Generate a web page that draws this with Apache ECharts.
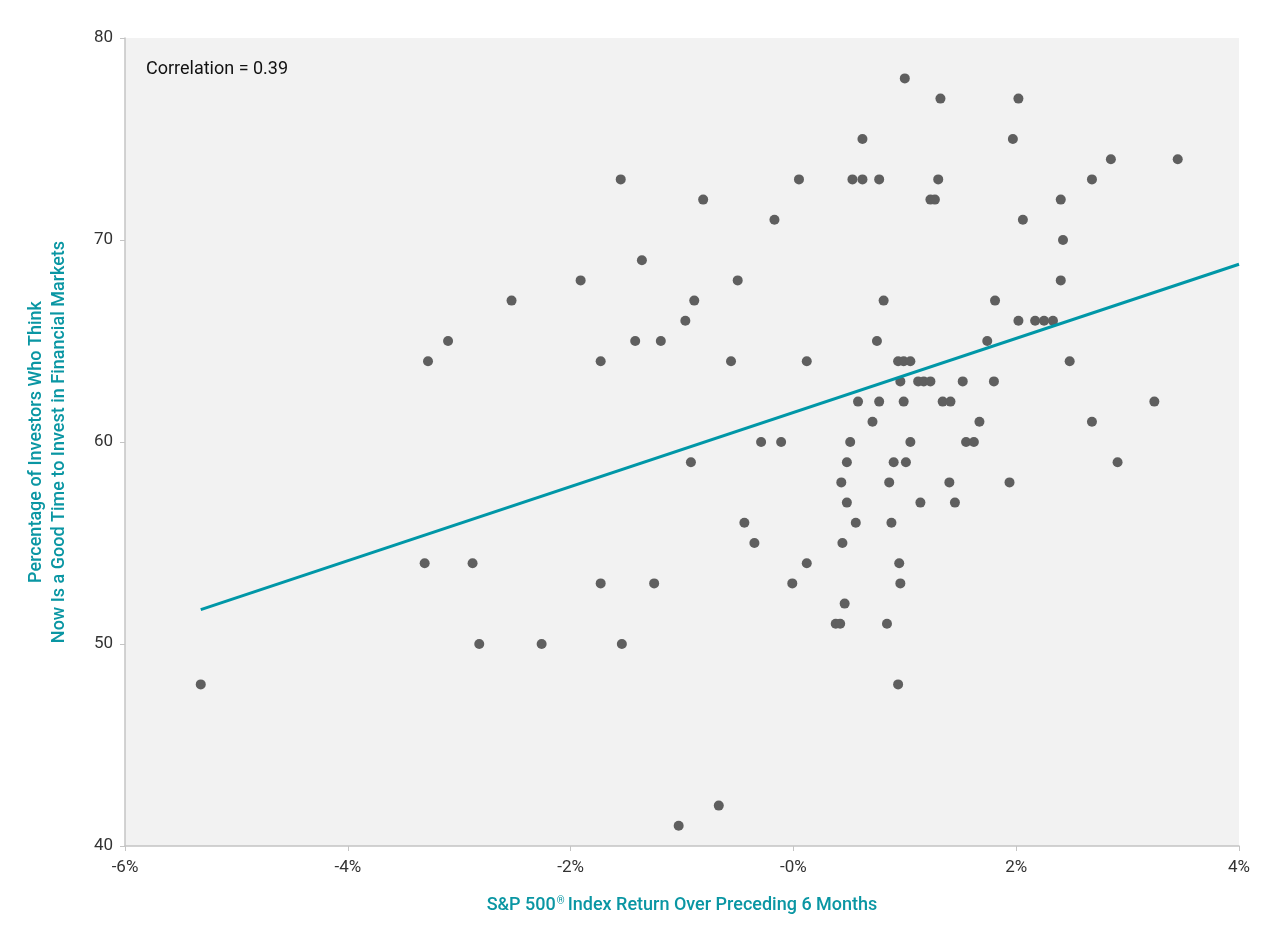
<!DOCTYPE html>
<html>
<head>
<meta charset="utf-8">
<script src="https://cdn.jsdelivr.net/npm/echarts@6/dist/echarts.min.js"></script>
<style>
  html, body { margin: 0; padding: 0; background: #fff; }
  #main { width: 1280px; height: 937px; }
</style>
</head>
<body>
<div id="main"></div>
<script>
// S&P 500 6-month return (%) and share of investors saying "good time to invest"
var returns = [
  -5.32, -3.31, -3.28, -3.10, -2.88, -2.82, -2.53, -2.26, -1.91, -1.73,
  -1.73, -1.55, -1.54, -1.42, -1.36, -1.25, -1.19, -1.03, -0.97, -0.92,
  -0.89, -0.81, -0.67, -0.56, -0.50, -0.44, -0.35, -0.29, -0.17, -0.11,
  -0.01, 0.05, 0.12, 0.12, 0.38, 0.42, 0.43, 0.44, 0.46, 0.48,
  0.48, 0.51, 0.53, 0.56, 0.58, 0.62, 0.62, 0.71, 0.75, 0.77,
  0.77, 0.81, 0.84, 0.86, 0.88, 0.90, 0.94, 0.94, 0.95, 0.96,
  0.96, 0.99, 0.99, 1.00, 1.01, 1.05, 1.05, 1.12, 1.14, 1.17,
  1.23, 1.23, 1.27, 1.30, 1.32, 1.34, 1.40, 1.41, 1.45, 1.52,
  1.55, 1.62, 1.67, 1.74, 1.80, 1.81, 1.94, 1.97, 2.02, 2.02,
  2.06, 2.17, 2.25, 2.33, 2.40, 2.40, 2.42, 2.48, 2.68, 2.68,
  2.85, 2.91, 3.24, 3.45
];
var goodTime = [
  48, 54, 64, 65, 54, 50, 67, 50, 68, 64,
  53, 73, 50, 65, 69, 53, 65, 41, 66, 59,
  67, 72, 42, 64, 68, 56, 55, 60, 71, 60,
  53, 73, 64, 54, 51, 51, 58, 55, 52, 59,
  57, 60, 73, 56, 62, 75, 73, 61, 65, 73,
  62, 67, 51, 58, 56, 59, 64, 48, 54, 63,
  53, 64, 62, 78, 59, 64, 60, 63, 57, 63,
  63, 72, 72, 73, 77, 62, 58, 62, 57, 63,
  60, 60, 61, 65, 63, 67, 58, 75, 77, 66,
  71, 66, 66, 66, 72, 68, 70, 64, 73, 61,
  74, 59, 62, 74
];
// fitted trend line ends
var trendX = [-5.32, 4];
var trendY = [51.7, 68.8];

var teal = '#0a96a3';
var points = returns.map(function (x, i) { return [x, goodTime[i]]; });
var trend = trendX.map(function (x, i) { return [x, trendY[i]]; });

var myChart = echarts.init(document.getElementById('main'));
var option = {
  backgroundColor: '#fff',
  textStyle: { fontFamily: 'Roboto' },
  animation: false,
  grid: {
    left: 125, right: 41, top: 38, bottom: 91,
    show: true, backgroundColor: '#f2f2f2', borderWidth: 0
  },
  graphic: [{
    type: 'text', left: 146, top: 60,
    style: { text: 'Correlation = 0.39', fontSize: 18, fill: '#111', fontFamily: 'Roboto' }
  }],
  xAxis: {
    type: 'value', min: -6, max: 4, interval: 2,
    axisLine: { show: true, onZero: false, lineStyle: { color: '#c4c4c4', width: 1.5 } },
    axisTick: { show: true, length: 5, lineStyle: { color: '#c4c4c4' } },
    splitLine: { show: false },
    axisLabel: {
      color: '#333', fontSize: 17, margin: 13,
      formatter: function (v) { return (v === 0 ? '-0' : v) + '%'; }
    },
    name: 'S&P 500{sup|®}Index Return Over Preceding 6 Months',
    nameLocation: 'middle', nameGap: 50,
    nameTextStyle: {
      color: teal, fontSize: 18, fontWeight: 500,
      rich: { sup: { fontSize: 10, color: teal, fontWeight: 500, verticalAlign: 'top', padding: [0, 3, 9, 1] } }
    }
  },
  yAxis: {
    type: 'value', min: 40, max: 80, interval: 10,
    axisLine: { show: true, onZero: false, lineStyle: { color: '#c4c4c4', width: 1.5 } },
    axisTick: { show: true, length: 5, lineStyle: { color: '#c4c4c4' } },
    splitLine: { show: false },
    axisLabel: { color: '#333', fontSize: 17, margin: 12 },
    name: 'Percentage of Investors Who Think\nNow Is a Good Time to Invest in Financial Markets',
    nameLocation: 'middle', nameRotate: 90, nameGap: 54,
    nameTextStyle: { color: teal, fontSize: 18, fontWeight: 500, lineHeight: 23, align: 'center' }
  },
  series: [{
    type: 'scatter',
    data: points,
    symbolSize: 10,
    itemStyle: { color: '#5f5f5f', opacity: 1 },
    z: 3
  }, {
    type: 'line',
    data: trend,
    symbol: 'none',
    lineStyle: { color: '#0097a7', width: 3 },
    z: 4
  }]
};
myChart.setOption(option);
</script>
</body>
</html>
